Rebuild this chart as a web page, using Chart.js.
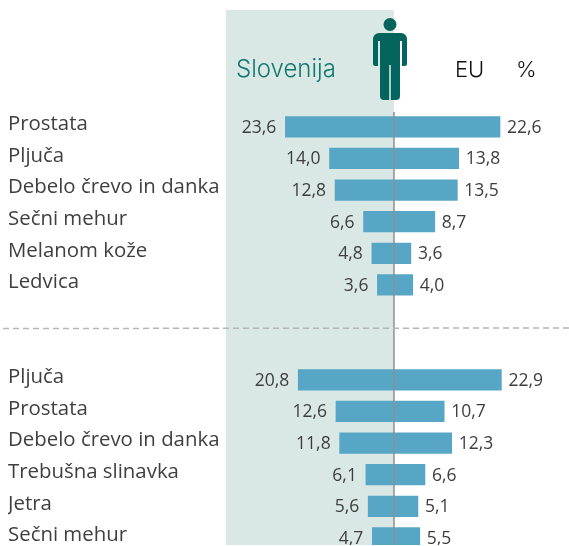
<!DOCTYPE html>
<html>
<head>
<meta charset="utf-8">
<script src="https://cdn.jsdelivr.net/npm/chart.js@4/dist/chart.umd.min.js"></script>
<style>
html,body{margin:0;padding:0;background:#fff;overflow:hidden;width:569px;height:546px}
#wrap{position:relative;width:569px;height:545px;overflow:hidden}
canvas{display:block}
</style>
</head>
<body>
<div id="wrap"><canvas id="c" width="569" height="566"></canvas></div>
<script>
const categories = ["Prostata","Pljuča","Debelo črevo in danka","Sečni mehur","Melanom kože","Ledvica","","","Pljuča","Prostata","Debelo črevo in danka","Trebušna slinavka","Jetra","Sečni mehur"];
const slovenia = [23.6,14.0,12.8,6.6,4.8,3.6,null,null,20.8,12.6,11.8,6.1,5.6,4.7];
const eu = [22.6,13.8,13.5,8.7,3.6,4.0,null,null,22.9,10.7,12.3,6.6,5.1,5.5];
const headers = {left:"Slovenija", right:"EU", unit:"%"};

const fmt = v => v.toFixed(1).replace('.', ',');

const backdrop = {
  id:'backdrop',
  beforeDatasetsDraw(chart){
    const {ctx, scales:{x}} = chart, c = x.getPixelForValue(0);
    ctx.save();
    ctx.fillStyle = '#d9e8e5';
    ctx.fillRect(226, 10, c-226, 540);
    ctx.restore();
  }
};

const overlay = {
  id:'overlay',
  afterDatasetsDraw(chart){
    const {ctx, scales:{x}} = chart, c = x.getPixelForValue(0);
    ctx.save();
    ctx.font = '17.5px "Open Sans"';
    ctx.fillStyle = '#3e3e3e';
    ctx.textBaseline = 'middle';
    [[0,'right',-9,slovenia],[1,'left',7,eu]].forEach(([i,al,dx,arr])=>{
      const meta = chart.getDatasetMeta(i);
      ctx.textAlign = al;
      meta.data.forEach((b,j)=>{
        if(arr[j]==null) return;
        ctx.fillText(fmt(arr[j]), b.x+dx, b.y+1);
      });
    });
    ctx.strokeStyle = '#8c9192';
    ctx.lineWidth = 1.5;
    ctx.beginPath(); ctx.moveTo(c,112); ctx.lineTo(c,550); ctx.stroke();
    ctx.strokeStyle = '#b4b6b6';
    ctx.lineWidth = 1.5;
    ctx.setLineDash([6,4]);
    ctx.beginPath(); ctx.moveTo(3,328.5); ctx.lineTo(569,328); ctx.stroke();
    ctx.setLineDash([]);
    ctx.textAlign = 'left';
    ctx.textBaseline = 'alphabetic';
    ctx.font = '300 24px Inter';
    ctx.fillStyle = '#13776f';
    ctx.fillText(headers.left, 236, 77);
    ctx.font = '300 22px Inter';
    ctx.fillStyle = '#111111';
    ctx.fillText(headers.right, 455, 77);
    ctx.fillText(headers.unit, 516, 77);
    ctx.fillStyle = '#03645e';
    ctx.beginPath(); ctx.arc(390,24.5,6.5,0,Math.PI*2); ctx.fill();
    ctx.beginPath(); ctx.roundRect(373,33,34,33,[6,6,2.5,2.5]); ctx.fill();
    ctx.beginPath(); ctx.roundRect(380,40,20,60,[0,0,4,4]); ctx.fill();
    ctx.fillStyle = '#d9e8e5';
    ctx.fillRect(378,41,2,26);
    ctx.fillRect(389.2,65,1.6,36);
    ctx.fillStyle = '#ffffff';
    ctx.fillRect(400,41,2,26);
    ctx.restore();
  }
};

new Chart(document.getElementById('c'), {
  type:'bar',
  data:{
    labels:categories,
    datasets:[
      {label:'Slovenija', data:slovenia.map(v=>v==null?null:-v), backgroundColor:'#58a6c5', barThickness:20.5, xAxisID:'x'},
      {label:'EU', data:eu, backgroundColor:'#58a6c5', barThickness:20.5, xAxisID:'x2'}
    ]
  },
  options:{
    indexAxis:'y',
    responsive:false,
    animation:false,
    layout:{padding:{top:111,bottom:3,left:8,right:0}},
    plugins:{legend:{display:false},tooltip:{enabled:false}},
    scales:{
      x:{display:false,stacked:true,min:-36.5,max:38.04},
      x2:{display:false,stacked:true,min:-35.82,max:37.31},
      y:{
        stacked:true,
        border:{display:false},
        grid:{display:false,drawTicks:false},
        afterFit(s){s.width=218;},
        ticks:{
          autoSkip:false,
          crossAlign:'far',
          padding:0,
          labelOffset:-2.5,
          color:'#3f3f3f',
          font:{family:'"Open Sans"',size:20.4}
        }
      }
    }
  },
  plugins:[backdrop,overlay]
});
</script>
</body>
</html>
